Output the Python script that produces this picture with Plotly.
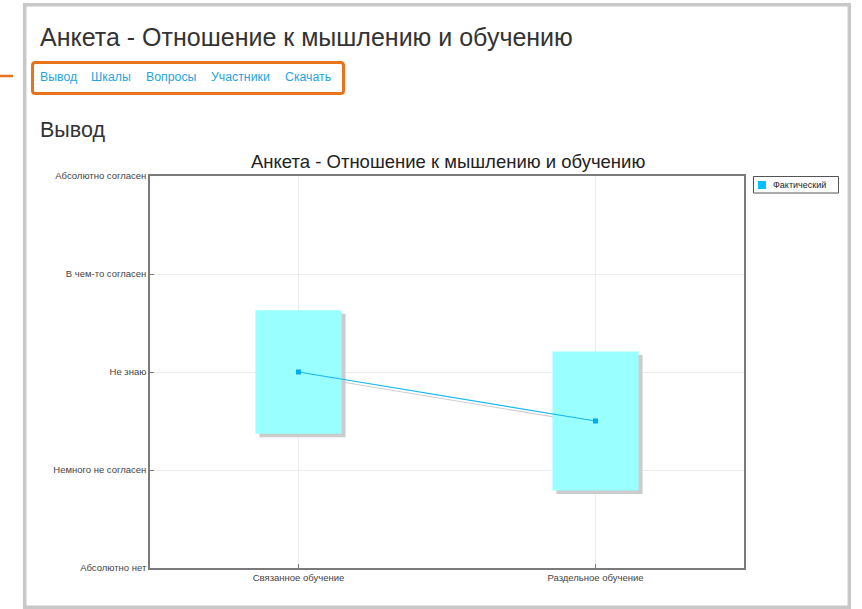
import plotly.graph_objects as go

# ---- data ----
categories = ["Связанное обучение", "Раздельное обучение"]
means = [3.0, 2.5]
spreads = [0.63, 0.71]
series_name = "Фактический"
scale_values = [1, 2, 3, 4, 5]
scale_labels = ["Абсолютно нет", "Немного не согласен", "Не знаю",
                "В чем-то согласен", "Абсолютно согласен"]
page_title = "Анкета - Отношение к мышлению и обучению"
nav_links = ["Вывод", "Шкалы", "Вопросы", "Участники", "Скачать"]
section_title = "Вывод"

# ---- geometry of the page ----
W, H = 862, 609
L, R, T, B = 150, 118, 176, 41
PW, PH = W - L - R, H - T - B


def px(x):
    return (x - L) / PW


def py(y):
    return (H - B - y) / PH


FONT = "Liberation Sans"
xs = list(range(len(categories)))
box_w = 0.29
# shadow offset (3-4 px) in data units
sdx = 4 / (PW / 2)
sdy = 3.5 / (PH / 4)

fig = go.Figure()

# shadow of the connecting line (base subplot, stays under the boxes)
fig.add_trace(go.Scatter(
    x=[x + sdx for x in xs], y=[m - sdy for m in means], mode="lines",
    line=dict(color="#cfcfcf", width=1.2), hoverinfo="skip", showlegend=False,
    xaxis="x", yaxis="y"))

# box shadows
fig.add_trace(go.Bar(
    x=xs, y=[2 * s for s in spreads], base=[m - s - sdy for m, s in zip(means, spreads)],
    width=box_w, offset=-box_w / 2 + sdx, marker=dict(color="#cccccc", line=dict(width=0)),
    hoverinfo="skip", showlegend=False, xaxis="x2", yaxis="y2"))

# boxes: mean ± spread
fig.add_trace(go.Bar(
    x=xs, y=[2 * s for s in spreads], base=[m - s for m, s in zip(means, spreads)],
    width=box_w, offset=-box_w / 2, marker=dict(color="#99ffff", line=dict(width=0)),
    showlegend=False, name=series_name, xaxis="x2", yaxis="y2"))

# means
fig.add_trace(go.Scatter(
    x=xs, y=means, mode="lines+markers", name=series_name,
    line=dict(color="#1ab8ee", width=1.2),
    marker=dict(symbol="square", size=5, color="#00aaee"),
    showlegend=False, xaxis="x2", yaxis="y2"))

axis_common = dict(showline=True, linecolor="#7a7a7a", linewidth=1.5, mirror=True,
                   ticks="inside", ticklen=4, tickcolor="#7a7a7a",
                   showgrid=True, gridcolor="#ececec", gridwidth=1, zeroline=False,
                   tickfont=dict(family=FONT, size=9.5, color="#444"))

fig.update_layout(
    width=W, height=H, autosize=False,
    margin=dict(l=L, r=R, t=T, b=B),
    paper_bgcolor="white", plot_bgcolor="white",
    barmode="overlay", showlegend=False,
    xaxis=dict(range=[-0.5, 1.5], tickvals=xs, ticktext=categories, **axis_common),
    yaxis=dict(range=[1, 5], tickvals=scale_values, ticktext=scale_labels, **axis_common),
    xaxis2=dict(range=[-0.5, 1.5], overlaying="x", visible=False),
    yaxis2=dict(range=[1, 5], overlaying="y", visible=False),
)

shapes = []
ann = []

# page frame
shapes.append(dict(type="rect", xref="paper", yref="paper",
                   x0=px(24.7), x1=px(849.3), y0=py(607.3), y1=py(4.7),
                   line=dict(color="#c8c8c8", width=3.5), layer="below"))

# page title
ann.append(dict(text=page_title, x=px(38), y=py(37), xanchor="left", yanchor="middle",
                font=dict(family=FONT, size=25, color="#333")))

# navigation links and highlight
link_x = [38, 89, 144, 209, 283]
for t, lx in zip(nav_links, link_x):
    ann.append(dict(text=t, x=px(lx), y=py(77), xanchor="left", yanchor="middle",
                    font=dict(family=FONT, size=12.3, color="#27a4dd")))


def rounded_rect(x0, y0, x1, y1, r):
    p = [f"M {px(x0 + r)},{py(y0)}", f"L {px(x1 - r)},{py(y0)}",
         f"Q {px(x1)},{py(y0)} {px(x1)},{py(y0 + r)}", f"L {px(x1)},{py(y1 - r)}",
         f"Q {px(x1)},{py(y1)} {px(x1 - r)},{py(y1)}", f"L {px(x0 + r)},{py(y1)}",
         f"Q {px(x0)},{py(y1)} {px(x0)},{py(y1 - r)}", f"L {px(x0)},{py(y0 + r)}",
         f"Q {px(x0)},{py(y0)} {px(x0 + r)},{py(y0)} Z"]
    return " ".join(p)


shapes.append(dict(type="path", xref="paper", yref="paper",
                   path=rounded_rect(32.5, 62.5, 343.5, 93.5, 3),
                   line=dict(color="#e8731a", width=3)))
shapes.append(dict(type="line", xref="paper", yref="paper",
                   x0=px(0), x1=px(13), y0=py(76), y1=py(76),
                   line=dict(color="#e8731a", width=2.5)))

# section heading
ann.append(dict(text=section_title, x=px(38), y=py(130), xanchor="left", yanchor="middle",
                font=dict(family=FONT, size=21.5, color="#333")))

# chart title
ann.append(dict(text=page_title, x=px(448), y=py(161), xanchor="center", yanchor="middle",
                font=dict(family=FONT, size=18.5, color="#222")))

# legend box
shapes.append(dict(type="rect", xref="paper", yref="paper",
                   x0=px(753.5), x1=px(838.5), y0=py(193), y1=py(176.5),
                   line=dict(color="#555", width=1), fillcolor="white"))
shapes.append(dict(type="rect", xref="paper", yref="paper",
                   x0=px(758), x1=px(766), y0=py(189), y1=py(181),
                   line=dict(width=0), fillcolor="#00c0ff"))
ann.append(dict(text=series_name, x=px(771), y=py(185), xanchor="left", yanchor="middle",
                font=dict(family=FONT, size=9, color="#222")))

for a in ann:
    a.update(xref="paper", yref="paper", showarrow=False)

fig.update_layout(shapes=shapes, annotations=ann)

fig.write_html("out.html")
